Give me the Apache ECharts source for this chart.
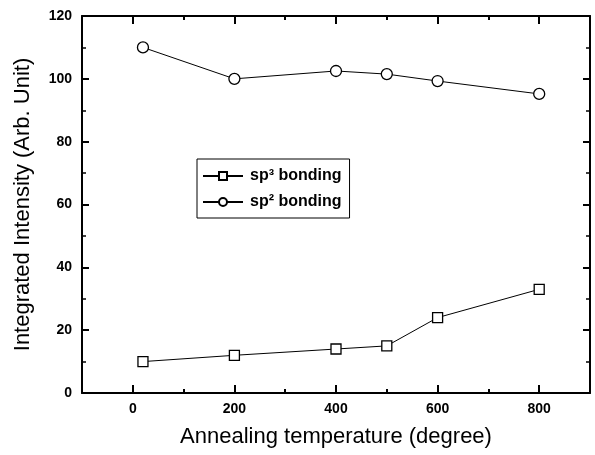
<!DOCTYPE html>
<html>
<head>
<meta charset="utf-8">
<script src="https://cdn.jsdelivr.net/npm/echarts@6/dist/echarts.min.js"></script>
<style>html,body{margin:0;padding:0;background:#fff}#c{width:595px;height:455px}</style>
</head>
<body>
<div id="c"></div>
<script>
var temperatures = [20, 200, 400, 500, 600, 800];
var sp3Values = [10, 12, 14, 15, 24, 33];
var sp2Values = [110, 100, 102.5, 101.5, 99.3, 95.2];
var seriesNames = ['sp\u00b3 bonding', 'sp\u00b2 bonding'];
var xMajorTicks = [0, 200, 400, 600, 800];
var xMinorTicks = [-100, 100, 300, 500, 700, 900];
var xTitle = 'Annealing temperature (degree)';
var yTitle = 'Integrated Intensity (Arb. Unit)';

var FONT = '"Liberation Sans", Arial, sans-serif';
function pairs(xs, ys) { return xs.map(function (x, i) { return [x, ys[i]]; }); }

function xAxisDef(pos, major, withLabels) {
  return {
    type: 'value', position: pos, min: -100, max: 900,
    axisLine: { show: major, onZero: false, lineStyle: { color: '#000', width: 2 } },
    axisTick: { show: true, inside: true, length: major ? 8 : 4, customValues: major ? xMajorTicks : xMinorTicks, lineStyle: { color: '#000', width: 2 } },
    axisLabel: withLabels ? { show: true, customValues: xMajorTicks, margin: 9, color: '#000', fontSize: 14, fontWeight: 'bold', fontFamily: FONT } : { show: false },
    splitLine: { show: false },
    name: withLabels ? xTitle : '',
    nameLocation: 'middle', nameGap: 33,
    nameTextStyle: { color: '#000', fontSize: 22, fontFamily: FONT }
  };
}
function yAxisDef(pos, withLabels) {
  return {
    type: 'value', position: pos, min: 0, max: 120, interval: 20,
    axisLine: { show: true, onZero: false, lineStyle: { color: '#000', width: 2 } },
    axisTick: { show: true, inside: true, length: 7, lineStyle: { color: '#000', width: 2 } },
    minorTick: { show: true, splitNumber: 2, length: 4, lineStyle: { color: '#000', width: 1.5 } },
    axisLabel: withLabels ? { show: true, margin: 10, color: '#000', fontSize: 14, fontWeight: 'bold', fontFamily: FONT } : { show: false },
    splitLine: { show: false },
    name: withLabels ? yTitle : '',
    nameLocation: 'middle', nameGap: 48,
    nameTextStyle: { color: '#000', fontSize: 22, fontFamily: FONT }
  };
}

var chart = echarts.init(document.getElementById('c'), null, { renderer: 'canvas' });
chart.setOption({
  animation: false,
  backgroundColor: '#fff',
  grid: { left: 82, right: 5, top: 16, bottom: 62, containLabel: false },
  xAxis: [xAxisDef('bottom', true, true), xAxisDef('bottom', false, false), xAxisDef('top', true, false), xAxisDef('top', false, false)],
  yAxis: [yAxisDef('left', true), yAxisDef('right', false)],
  legend: {
    orient: 'vertical', left: 197, top: 159,
    borderColor: '#000', borderWidth: 1, backgroundColor: '#fff',
    padding: [9, 8, 8, 5], itemGap: 10,
    itemWidth: 40, itemHeight: 10,
    textStyle: { color: '#000', fontSize: 16, fontWeight: 'bold', fontFamily: FONT, padding: [0, 0, 0, 2] },
    data: seriesNames
  },
  series: [
    {
      name: seriesNames[0], type: 'line', data: pairs(temperatures, sp3Values),
      symbol: 'rect', symbolSize: 10, showAllSymbol: true,
      lineStyle: { color: '#000', width: 1 },
      itemStyle: { color: '#fff', borderColor: '#000', borderWidth: 1.3 }
    },
    {
      name: seriesNames[1], type: 'line', data: pairs(temperatures, sp2Values),
      symbol: 'circle', symbolSize: 11, showAllSymbol: true,
      lineStyle: { color: '#000', width: 1 },
      itemStyle: { color: '#fff', borderColor: '#000', borderWidth: 1.3 }
    }
  ]
});
</script>
</body>
</html>
